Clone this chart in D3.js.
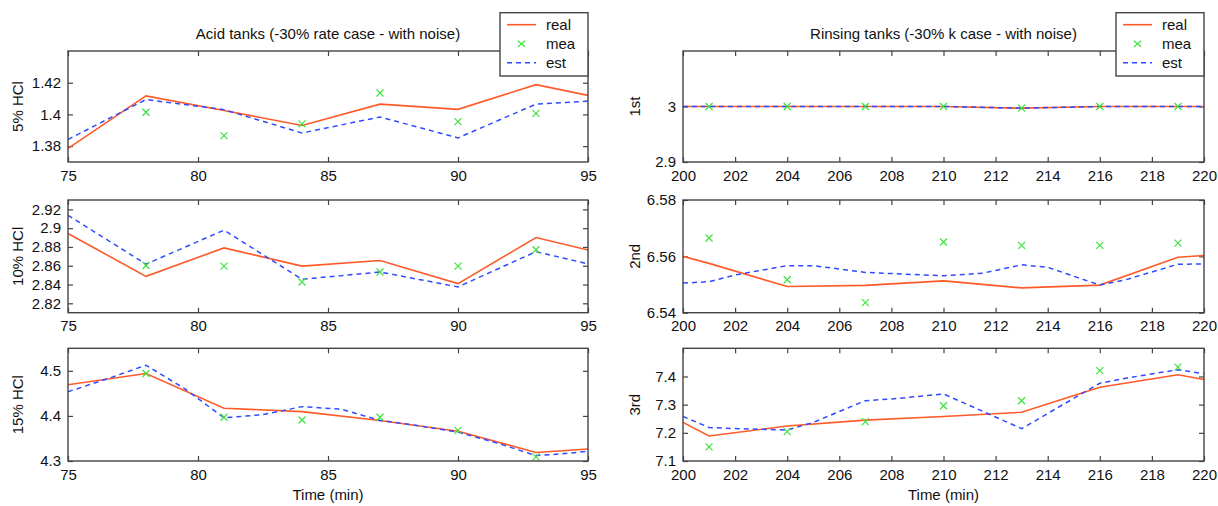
<!DOCTYPE html>
<html>
<head>
<meta charset="utf-8">
<script src="https://cdn.jsdelivr.net/npm/d3@7/dist/d3.min.js"></script>
<style>
  html, body { margin: 0; padding: 0; background: #ffffff; }
  svg { display: block; }
  text { font-family: "Liberation Sans", Arial, sans-serif; fill: #111; }
</style>
</head>
<body>
<svg id="chart" width="1218" height="506"></svg>
<script>
// ---- Acid tanks: time axis (min) ----
const acidTime = [75, 78, 81, 84, 87, 90, 93, 95];
const acidMeaTime = [78, 81, 84, 87, 90, 93];

// 5% HCl
const hcl5Real = [1.3786, 1.4117, 1.4025, 1.3930, 1.4065, 1.4032, 1.4188, 1.4120];
const hcl5Est  = [1.3842, 1.4094, 1.4030, 1.3883, 1.3984, 1.3852, 1.4065, 1.4084];
const hcl5Mea  = [1.4014, 1.3866, 1.3940, 1.4135, 1.3955, 1.4007];

// 10% HCl
const hcl10Real = [2.8943, 2.8487, 2.8790, 2.8596, 2.8656, 2.8410, 2.8900, 2.8768];
const hcl10Est  = [2.9137, 2.8617, 2.8979, 2.8456, 2.8533, 2.8375, 2.8750, 2.8620];
const hcl10Mea  = [2.8603, 2.8596, 2.8427, 2.8533, 2.8596, 2.8770];

// 15% HCl
const hcl15Real = [4.4690, 4.4940, 4.4170, 4.4096, 4.3900, 4.3660, 4.3190, 4.3265];
const hcl15EstTime = [75, 76.5, 78, 79.5, 81, 82.5, 84, 85.5, 87, 88.5, 90, 91.5, 93, 94, 95];
const hcl15Est  = [4.4537, 4.4820, 4.5125, 4.4600, 4.3957, 4.4030, 4.4206, 4.4150, 4.3900, 4.3780, 4.3640, 4.3400, 4.3120, 4.3160, 4.3214];
const hcl15Mea  = [4.4940, 4.3970, 4.3910, 4.3970, 4.3680, 4.3090];

// ---- Rinsing tanks: time axis (min) ----
const rinseTime = [200, 201, 204, 207, 210, 213, 216, 219, 220];
const rinseMeaTime = [201, 204, 207, 210, 213, 216, 219];

// 1st rinse
const rinse1Real = [3.000, 3.000, 3.000, 3.000, 3.000, 2.997, 3.000, 3.000, 3.000];
const rinse1Est  = [3.000, 3.000, 3.000, 3.000, 3.000, 2.997, 3.000, 3.000, 3.000];
const rinse1Mea  = [3.000, 3.000, 3.000, 3.000, 2.997, 3.000, 3.000];

// 2nd rinse
const rinse2Real = [6.5600, 6.5575, 6.5493, 6.5497, 6.5513, 6.5488, 6.5498, 6.5597, 6.5603];
const rinse2EstTime = [200, 201, 202, 204, 205, 207, 210, 211.5, 213, 214, 216, 217, 219, 220];
const rinse2Est  = [6.5505, 6.5510, 6.5534, 6.5567, 6.5567, 6.5543, 6.5531, 6.5540, 6.5570, 6.5561, 6.5498, 6.5517, 6.5572, 6.5573];
const rinse2Mea  = [6.5665, 6.5517, 6.5436, 6.5651, 6.5639, 6.5639, 6.5647];

// 3rd rinse
const rinse3Real = [7.237, 7.189, 7.224, 7.245, 7.258, 7.273, 7.362, 7.406, 7.389];
const rinse3EstTime = [200, 201, 202, 204, 205, 207, 208, 210, 213, 216, 217, 219, 220];
const rinse3Est  = [7.258, 7.219, 7.215, 7.210, 7.237, 7.314, 7.320, 7.338, 7.215, 7.376, 7.394, 7.424, 7.410];
const rinse3Mea  = [7.150, 7.204, 7.240, 7.296, 7.314, 7.421, 7.433];

// ---- Axis settings ----
const acidXTicks = [75, 80, 85, 90, 95];
const rinseXTicks = [200, 202, 204, 206, 208, 210, 212, 214, 216, 218, 220];

const titles = ["Acid tanks (-30% rate case - with noise)", "Rinsing tanks (-30% k case - with noise)"];
const legendLabels = ["real", "mea", "est"];
const xLabel = "Time (min)";

const COLORS = { real: "#ff5a28", mea: "#3fe03f", est: "#2f4bff" };

// Panel layout (pixels)
const colX = [[68, 588], [683, 1204]];
const rowY = [[51, 162], [200, 312.7], [348.3, 461]];
const yLabelX = [17, 634];

const panels = [
  { col: 0, row: 0, ylabel: "5% HCl", ydom: [1.37, 1.44], yticks: [1.38, 1.40, 1.42], yfmt: d3.format(".3~f"),
    xdom: [75, 95], xticks: acidXTicks,
    real: [acidTime, hcl5Real], est: [acidTime, hcl5Est], mea: [acidMeaTime, hcl5Mea] },
  { col: 0, row: 1, ylabel: "10% HCl", ydom: [2.81, 2.93], yticks: [2.82, 2.84, 2.86, 2.88, 2.90, 2.92], yfmt: d3.format(".3~f"),
    xdom: [75, 95], xticks: acidXTicks,
    real: [acidTime, hcl10Real], est: [acidTime, hcl10Est], mea: [acidMeaTime, hcl10Mea] },
  { col: 0, row: 2, ylabel: "15% HCl", ydom: [4.30, 4.55], yticks: [4.3, 4.4, 4.5], yfmt: d3.format(".2~f"),
    xdom: [75, 95], xticks: acidXTicks, xlabel: true,
    real: [acidTime, hcl15Real], est: [hcl15EstTime, hcl15Est], mea: [acidMeaTime, hcl15Mea] },
  { col: 1, row: 0, ylabel: "1st", ydom: [2.9, 3.1], yticks: [2.9, 3.0], yfmt: d3.format(".2~f"),
    xdom: [200, 220], xticks: rinseXTicks,
    real: [rinseTime, rinse1Real], est: [rinseTime, rinse1Est], mea: [rinseMeaTime, rinse1Mea] },
  { col: 1, row: 1, ylabel: "2nd", ydom: [6.54, 6.58], yticks: [6.54, 6.56, 6.58], yfmt: d3.format(".3~f"),
    xdom: [200, 220], xticks: rinseXTicks,
    real: [rinseTime, rinse2Real], est: [rinse2EstTime, rinse2Est], mea: [rinseMeaTime, rinse2Mea] },
  { col: 1, row: 2, ylabel: "3rd", ydom: [7.1, 7.5], yticks: [7.1, 7.2, 7.3, 7.4], yfmt: d3.format(".2~f"),
    xdom: [200, 220], xticks: rinseXTicks, xlabel: true,
    real: [rinseTime, rinse3Real], est: [rinse3EstTime, rinse3Est], mea: [rinseMeaTime, rinse3Mea] }
];

const svg = d3.select("#chart");
const FONT = 15;
const TICK = 5;
const FRAME = "#444";

const zip = (xs, ys) => xs.map((x, i) => [x, ys[i]]);

panels.forEach((p, idx) => {
  const [x0, x1] = colX[p.col];
  const [y0, y1] = rowY[p.row];
  const x = d3.scaleLinear().domain(p.xdom).range([x0, x1]);
  const y = d3.scaleLinear().domain(p.ydom).range([y1, y0]);

  const g = svg.append("g");
  const clipId = "clip" + idx;
  svg.append("clipPath").attr("id", clipId)
    .append("rect").attr("x", x0).attr("y", y0).attr("width", x1 - x0).attr("height", y1 - y0);

  // plot background
  g.append("rect").attr("x", x0).attr("y", y0).attr("width", x1 - x0).attr("height", y1 - y0)
    .attr("fill", "#fff");

  // axes: inward ticks on all four sides
  const axB = d3.axisBottom(x).tickValues(p.xticks).tickSize(-TICK).tickPadding(TICK + 3).tickFormat(d3.format("d"));
  const axT = d3.axisTop(x).tickValues(p.xticks).tickSize(-TICK).tickFormat("");
  const axL = d3.axisLeft(y).tickValues(p.yticks).tickSize(-TICK).tickPadding(TICK + 2).tickFormat(p.yfmt);
  const axR = d3.axisRight(y).tickValues(p.yticks).tickSize(-TICK).tickFormat("");

  const styleAxis = sel => {
    sel.select(".domain").remove();
    sel.selectAll(".tick line").attr("stroke", FRAME).attr("stroke-width", 1.2);
    sel.selectAll(".tick text").attr("font-size", FONT).attr("fill", "#111")
      .attr("font-family", "Liberation Sans, Arial, sans-serif");
  };
  g.append("g").attr("transform", `translate(0,${y1})`).call(axB).call(styleAxis);
  g.append("g").attr("transform", `translate(0,${y0})`).call(axT).call(styleAxis);
  g.append("g").attr("transform", `translate(${x0},0)`).call(axL).call(styleAxis);
  g.append("g").attr("transform", `translate(${x1},0)`).call(axR).call(styleAxis);

  // series
  const line = d3.line().x(d => x(d[0])).y(d => y(d[1]));
  const series = g.append("g").attr("clip-path", `url(#${clipId})`);
  series.append("path").datum(zip(p.real[0], p.real[1]))
    .attr("d", line).attr("fill", "none").attr("stroke", COLORS.real).attr("stroke-width", 1.6);
  series.append("path").datum(zip(p.est[0], p.est[1]))
    .attr("d", line).attr("fill", "none").attr("stroke", COLORS.est).attr("stroke-width", 1.5)
    .attr("stroke-dasharray", "5,4");
  series.selectAll("path.mea").data(zip(p.mea[0], p.mea[1])).join("path")
    .attr("class", "mea")
    .attr("d", "M-3.5,-3.5L3.5,3.5M-3.5,3.5L3.5,-3.5")
    .attr("transform", d => `translate(${x(d[0])},${y(d[1])})`)
    .attr("stroke", COLORS.mea).attr("stroke-width", 1.2).attr("fill", "none");

  // frame
  g.append("rect").attr("x", x0).attr("y", y0).attr("width", x1 - x0).attr("height", y1 - y0)
    .attr("fill", "none").attr("stroke", FRAME).attr("stroke-width", 1.4);

  // y label
  g.append("text")
    .attr("transform", `translate(${yLabelX[p.col]},${(y0 + y1) / 2}) rotate(-90)`)
    .attr("text-anchor", "middle").attr("dominant-baseline", "central")
    .attr("font-size", FONT).text(p.ylabel);

  if (p.xlabel) {
    g.append("text").attr("x", (x0 + x1) / 2).attr("y", 494)
      .attr("text-anchor", "middle").attr("dominant-baseline", "central")
      .attr("font-size", FONT).text(xLabel);
  }
});

// titles and legends, one per column
colX.forEach(([x0, x1], c) => {
  svg.append("text").attr("x", (x0 + x1) / 2).attr("y", 33)
    .attr("text-anchor", "middle").attr("dominant-baseline", "central")
    .attr("font-size", FONT).text(titles[c]);

  const w = 88, top = 12.7, h = 63.3;
  const lg = svg.append("g").attr("transform", `translate(${x1 - w},${top})`);
  lg.append("rect").attr("width", w).attr("height", h)
    .attr("fill", "#fff").attr("stroke", FRAME).attr("stroke-width", 1.4);
  const rows = [12, 31, 50];
  legendLabels.forEach((lab, i) => {
    const yy = rows[i];
    if (lab === "real") {
      lg.append("line").attr("x1", 7).attr("x2", 36).attr("y1", yy).attr("y2", yy)
        .attr("stroke", COLORS.real).attr("stroke-width", 1.6);
    } else if (lab === "est") {
      lg.append("line").attr("x1", 7).attr("x2", 36).attr("y1", yy).attr("y2", yy)
        .attr("stroke", COLORS.est).attr("stroke-width", 1.5).attr("stroke-dasharray", "5,4");
    } else {
      lg.append("path").attr("d", `M18,${yy - 3}L25,${yy + 3}M18,${yy + 3}L25,${yy - 3}`)
        .attr("stroke", COLORS.mea).attr("stroke-width", 1.2);
    }
    lg.append("text").attr("x", 46).attr("y", yy).attr("dominant-baseline", "central")
      .attr("font-size", FONT).text(lab);
  });
});
</script>
</body>
</html>
